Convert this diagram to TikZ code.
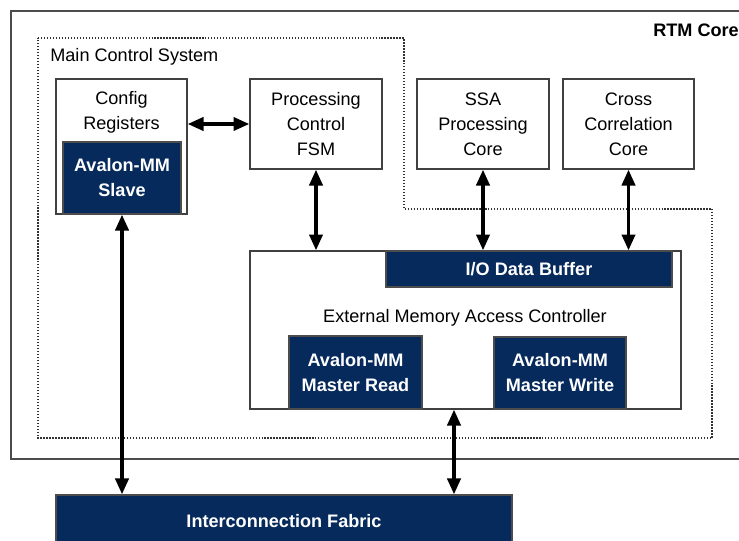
\documentclass[tikz,border=0pt]{standalone}
\usepackage{fontspec}
\setmainfont{Liberation Sans}
\usepackage{tikz}
\usetikzlibrary{arrows.meta, positioning}
\definecolor{avnavy}{RGB}{6,42,92}
\tikzset{
    every node/.style={font=\fontsize{10.3}{14.2}\selectfont, inner sep=0pt},
    plainbox/.style={draw=black!75, line width=.8pt, fill=white, align=center},
    navybox/.style={draw=black!70, line width=.8pt, fill=avnavy, text=white, align=center, font=\fontsize{10.3}{14.2}\selectfont\bfseries},
    busarrow/.style={line width=1.9pt, {Triangle[length=9pt,width=7.5pt]}-{Triangle[length=9pt,width=7.5pt]}},
}
\begin{document}
\begin{tikzpicture}[x=0.02cm, y=-0.02cm]
                 \useasboundingbox (0,0) rectangle (739,540);
                 \clip (0,0) rectangle (739,540);

                 \draw[black!70, line width=.6pt](11,11) rectangle (760,459);
                 \node[anchor=west, font=\fontsize{10.3}{14.2}\selectfont\bfseries] (rtm) at (653,30) {RTM Core};

                 \draw[black!80, line width=.7pt, densely dotted](38,38)--(404,38)--(404,209)--(712,209)--(712,438)--(38,438)--cycle;
                 \node[anchor=west] (mcs) at (50,57) {Main Control System};

                 \node[plainbox, minimum width=2.62cm, minimum height=2.70cm] (cfg) at (121.5,146.5) {};
                 \node[align=center] (cfgtext) at (121.5,112.5) {Config\\Registers};
                 \node[navybox, minimum width=2.36cm, minimum height=1.44cm] (slave) at (122,178) {Avalon-MM\\Slave};

                 \node[plainbox, minimum width=2.64cm, minimum height=1.80cm] (fsm) at (316,124) {Processing\\Control\\FSM};
                 \node[plainbox, minimum width=2.64cm, minimum height=1.80cm] (ssa) at (483,124) {SSA\\Processing\\Core};
                 \node[plainbox, minimum width=2.62cm, minimum height=1.80cm] (cross) at (628.5,124) {Cross\\Correlation\\Core};

                 \node[plainbox, minimum width=8.62cm, minimum height=3.16cm] (ext) at (465.5,330) {};
                 \node[navybox, minimum width=5.72cm, minimum height=.72cm] (iobuf) at (529,269) {I/O Data Buffer};
                 \node (exttext) at (465,318) {External Memory Access Controller};
                 \node[navybox, minimum width=2.66cm, minimum height=1.46cm] (read) at (355.5,372.5) {Avalon-MM\\Master Read};
                 \node[navybox, minimum width=2.64cm, minimum height=1.44cm] (write) at (560,373) {Avalon-MM\\Master Write};

                 \node[navybox, minimum width=9.12cm, minimum height=1.04cm] (fab) at (284,521) {Interconnection Fabric};

                 \draw[busarrow](cfg.east |- fsm.center)--(fsm.west);
                 \draw[busarrow](fsm.south)--(fsm.south |- ext.north);
                 \draw[busarrow](ssa.south)--(ssa.south |- ext.north);
                 \draw[busarrow](cross.south)--(cross.south |- ext.north);
                 \draw[busarrow](slave.south)--(slave.south |- fab.north);
                 \draw[busarrow]([xshift=-0.23cm]ext.south)--([xshift=-0.23cm]ext.south |- fab.north);
             \end{tikzpicture}
\end{document}
